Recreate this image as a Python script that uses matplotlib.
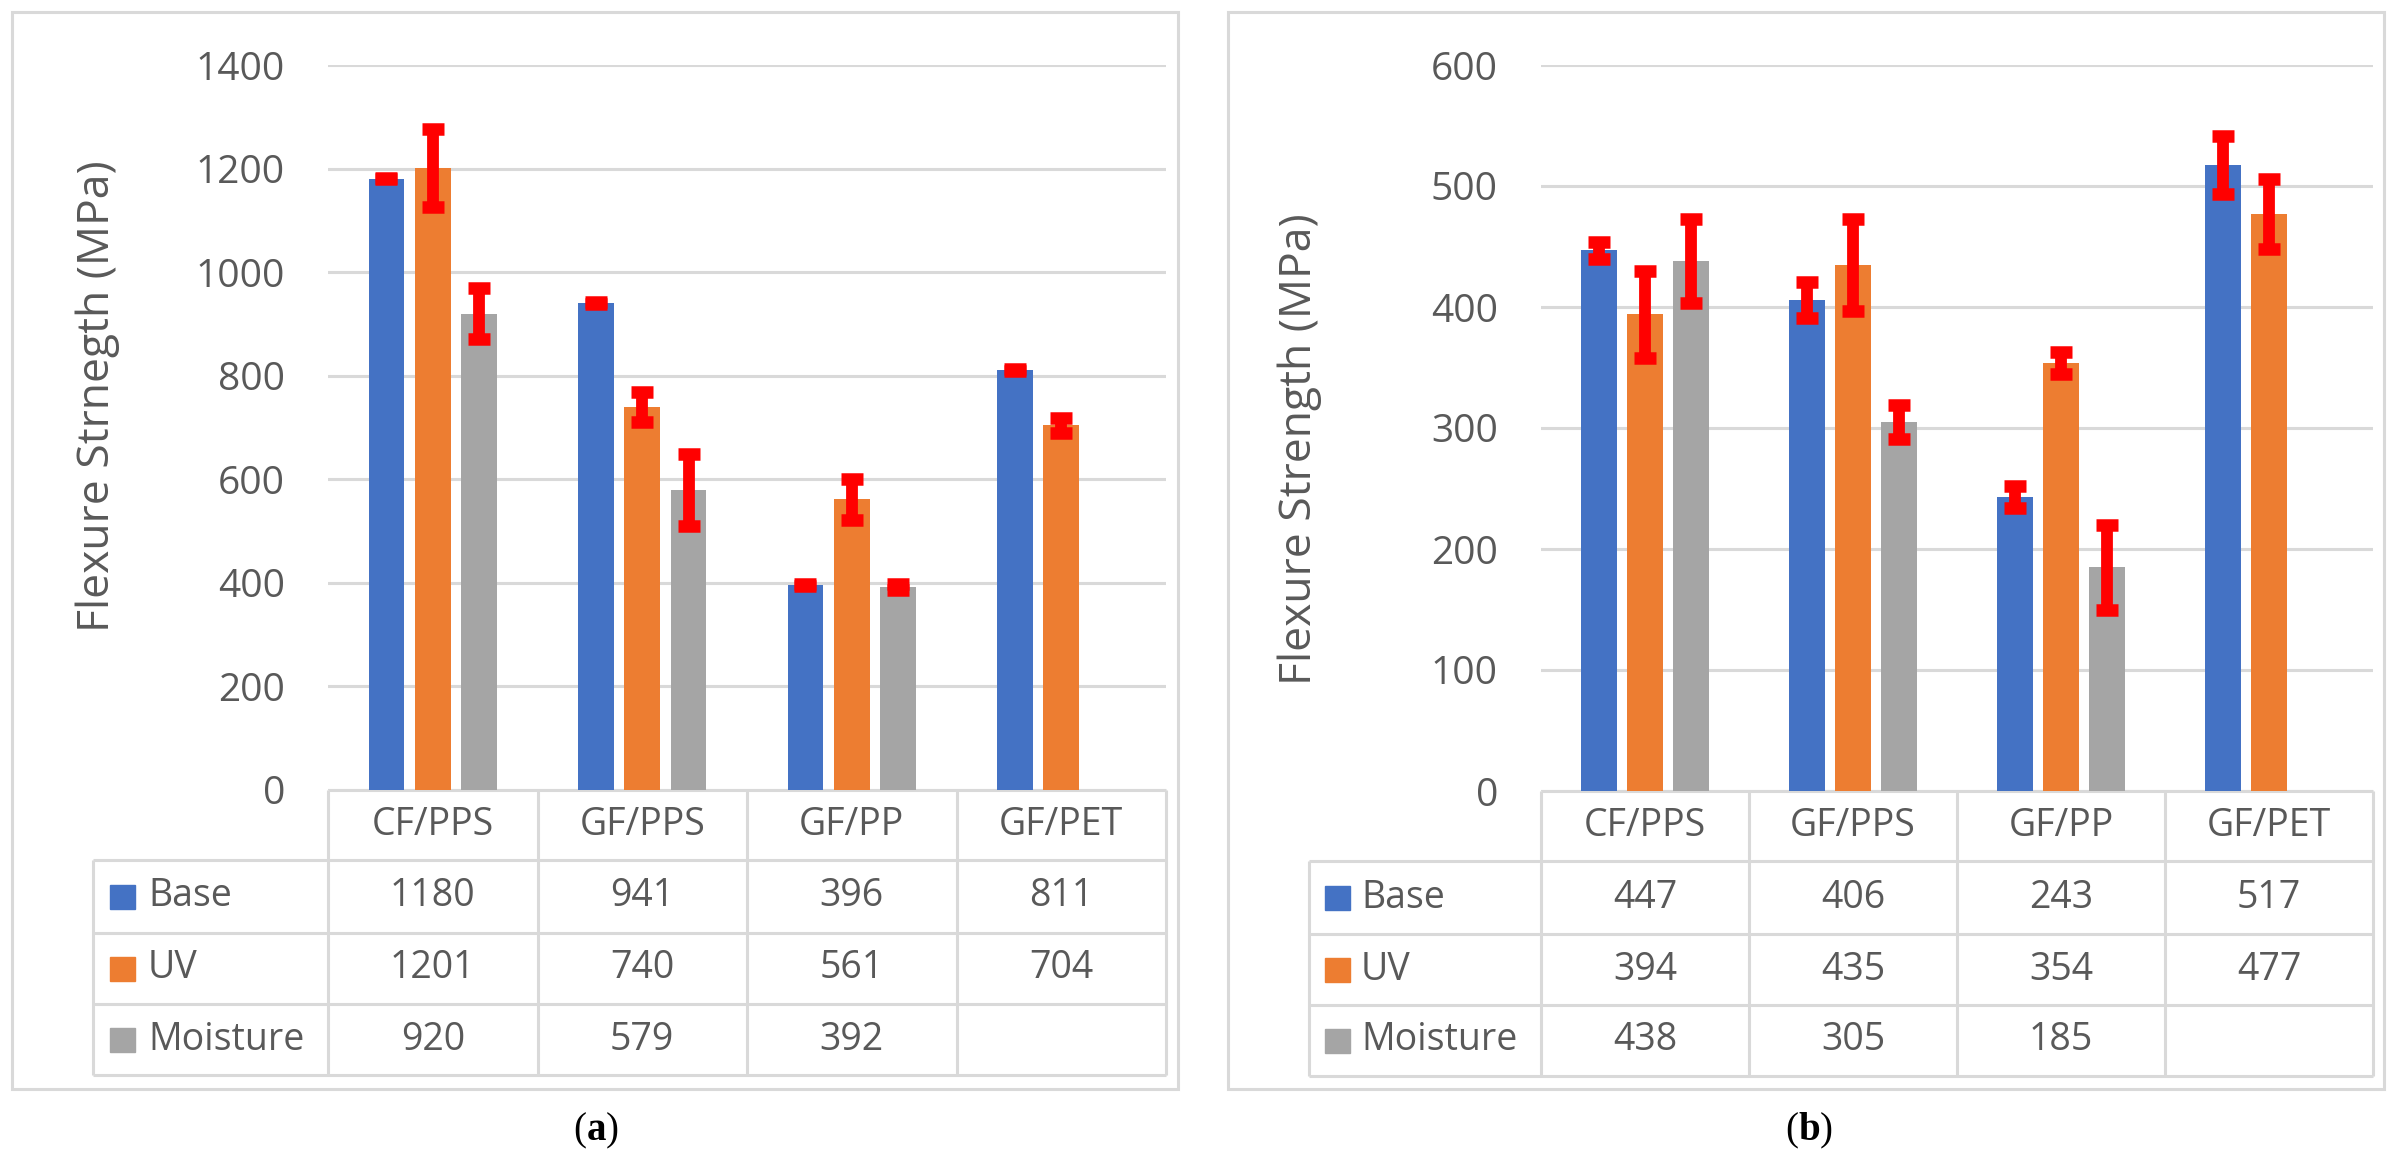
import matplotlib
matplotlib.use("Agg")
import matplotlib.pyplot as plt
from matplotlib.patches import Rectangle
from matplotlib.offsetbox import TextArea, HPacker, AnchoredOffsetbox

# ---------------- data ----------------
categories = ["CF/PPS", "GF/PPS", "GF/PP", "GF/PET"]
series = ["Base", "UV", "Moisture"]

a_base = [1180, 941, 396, 811]
a_uv = [1201, 740, 561, 704]
a_moist = [920, 579, 392]
a_err_base = [1, 2, 2, 2]
a_err_uv = [76, 29, 39, 15]
a_err_moist = [49, 69, 5]

b_base = [447, 406, 243, 517]
b_uv = [394, 435, 354, 477]
b_moist = [438, 305, 185]
b_err_base = [7, 15, 9, 24]
b_err_uv = [36, 38, 9, 29]
b_err_moist = [35, 14, 35]

a_ticks = [0, 200, 400, 600, 800, 1000, 1200, 1400]
b_ticks = [0, 100, 200, 300, 400, 500, 600]

colors = ["#4472C4", "#ED7D31", "#A5A5A5"]
GRID = "#D9D9D9"
TXT = "#595959"
FONT = "Open Sans"

W, H = 2391, 1164
fig = plt.figure(figsize=(W / 100, H / 100), dpi=100)
plt.rcParams['font.family'] = [FONT, 'DejaVu Sans']

ov = fig.add_axes([0, 0, 1, 1], zorder=0)
ov.set_xlim(0, W)
ov.set_ylim(H, 0)
ov.axis("off")

LW = 2.2


def hline(x0, x1, y):
    ov.plot([x0, x1], [y, y], color=GRID, lw=LW, solid_capstyle="butt", zorder=1)


def vline(x, y0, y1):
    ov.plot([x, x], [y0, y1], color=GRID, lw=LW, solid_capstyle="butt", zorder=1)


def panel(left, right, top, bottom, ymax, ticks, data, errs, tbl_left, leg_sq, leg_txt,
          border, ylabel, ylab_pos, tag, tag_pos):
    ax = fig.add_axes([left / W, 1 - bottom / H, (right - left) / W, (bottom - top) / H], zorder=2)
    ax.patch.set_alpha(0)
    ax.set_xlim(-0.5, len(categories) - 0.5)
    ax.set_ylim(0, ymax)
    for s in ax.spines.values():
        s.set_visible(False)
    ax.set_yticks(ticks)
    ax.set_yticklabels([str(t) for t in ticks])
    ax.tick_params(axis="y", length=0, pad=31, labelsize=28, labelcolor=TXT)
    ax.set_xticks([])
    ax.yaxis.grid(True, color=GRID, lw=LW)
    ax.set_axisbelow(True)
    w = 0.171
    off = 0.221
    for i, (vals, ev) in enumerate(zip(data, errs)):
        xs = [k + (i - 1) * off for k in range(len(vals))]
        ax.bar(xs, vals, width=w, color=colors[i], zorder=2)
        ax.errorbar(xs, vals, yerr=ev, fmt="none", ecolor="#FF0000", elinewidth=8.5,
                    capsize=8, capthick=9, zorder=3)

    # table
    col_edges = [left + (right - left) * k / len(categories) for k in range(len(categories) + 1)]
    rows = [bottom, bottom + 70, bottom + 143, bottom + 214, bottom + 285]
    hline(left, right, rows[0])
    for r in rows[1:]:
        hline(tbl_left, right, r)
    for cx in col_edges:
        vline(cx, rows[0], rows[-1])
    vline(tbl_left, rows[1], rows[-1])
    for k, c in enumerate(categories):
        cx = (col_edges[k] + col_edges[k + 1]) / 2
        ov.text(cx, (rows[0] + rows[1]) / 2, c, ha="center", va="center", fontsize=27, color=TXT)
    for i, (name, vals) in enumerate(zip(series, data)):
        cy = (rows[i + 1] + rows[i + 2]) / 2
        ov.add_patch(Rectangle((leg_sq, cy - 12), 25, 24, color=colors[i], zorder=2))
        ov.text(leg_txt, cy, name, ha="left", va="center", fontsize=27, color=TXT)
        for k, v in enumerate(vals):
            cx = (col_edges[k] + col_edges[k + 1]) / 2
            ov.text(cx, cy, str(v), ha="center", va="center", fontsize=27, color=TXT)

    # border
    bx0, by0, bx1, by1 = border
    ov.add_patch(Rectangle((bx0, by0), bx1 - bx0, by1 - by0, fill=False, ec=GRID, lw=LW, zorder=1))
    ov.text(ylab_pos[0], ylab_pos[1], ylabel, rotation=90, ha="center", va="center",
            fontsize=32, color=TXT)

    parts = [TextArea("(", textprops=dict(family="Liberation Serif", size=28, color="black")),
             TextArea(tag, textprops=dict(family="Liberation Serif", size=28, weight="bold", color="black")),
             TextArea(")", textprops=dict(family="Liberation Serif", size=28, color="black"))]
    pack = HPacker(children=parts, pad=0, sep=0, align="baseline")
    ab = AnchoredOffsetbox(loc="center", child=pack, frameon=False,
                           bbox_to_anchor=(tag_pos[0] / W, 1 - tag_pos[1] / H),
                           bbox_transform=fig.transFigure, borderpad=0, pad=0)
    ov.add_artist(ab)


panel(328, 1166, 65, 790, 1400, a_ticks, [a_base, a_uv, a_moist],
      [a_err_base, a_err_uv, a_err_moist], 93, 110, 148, (12, 12, 1178, 1089),
      "Flexure Strnegth (MPa)", (98, 396), "a", (596, 1131))
panel(1541, 2373, 65, 791, 600, b_ticks, [b_base, b_uv, b_moist],
      [b_err_base, b_err_uv, b_err_moist], 1309, 1325, 1361, (1228, 12, 2384, 1089),
      "Flexure Strength (MPa)", (1300, 449), "b", (1809, 1131))

fig.savefig("out.png", dpi=100)
